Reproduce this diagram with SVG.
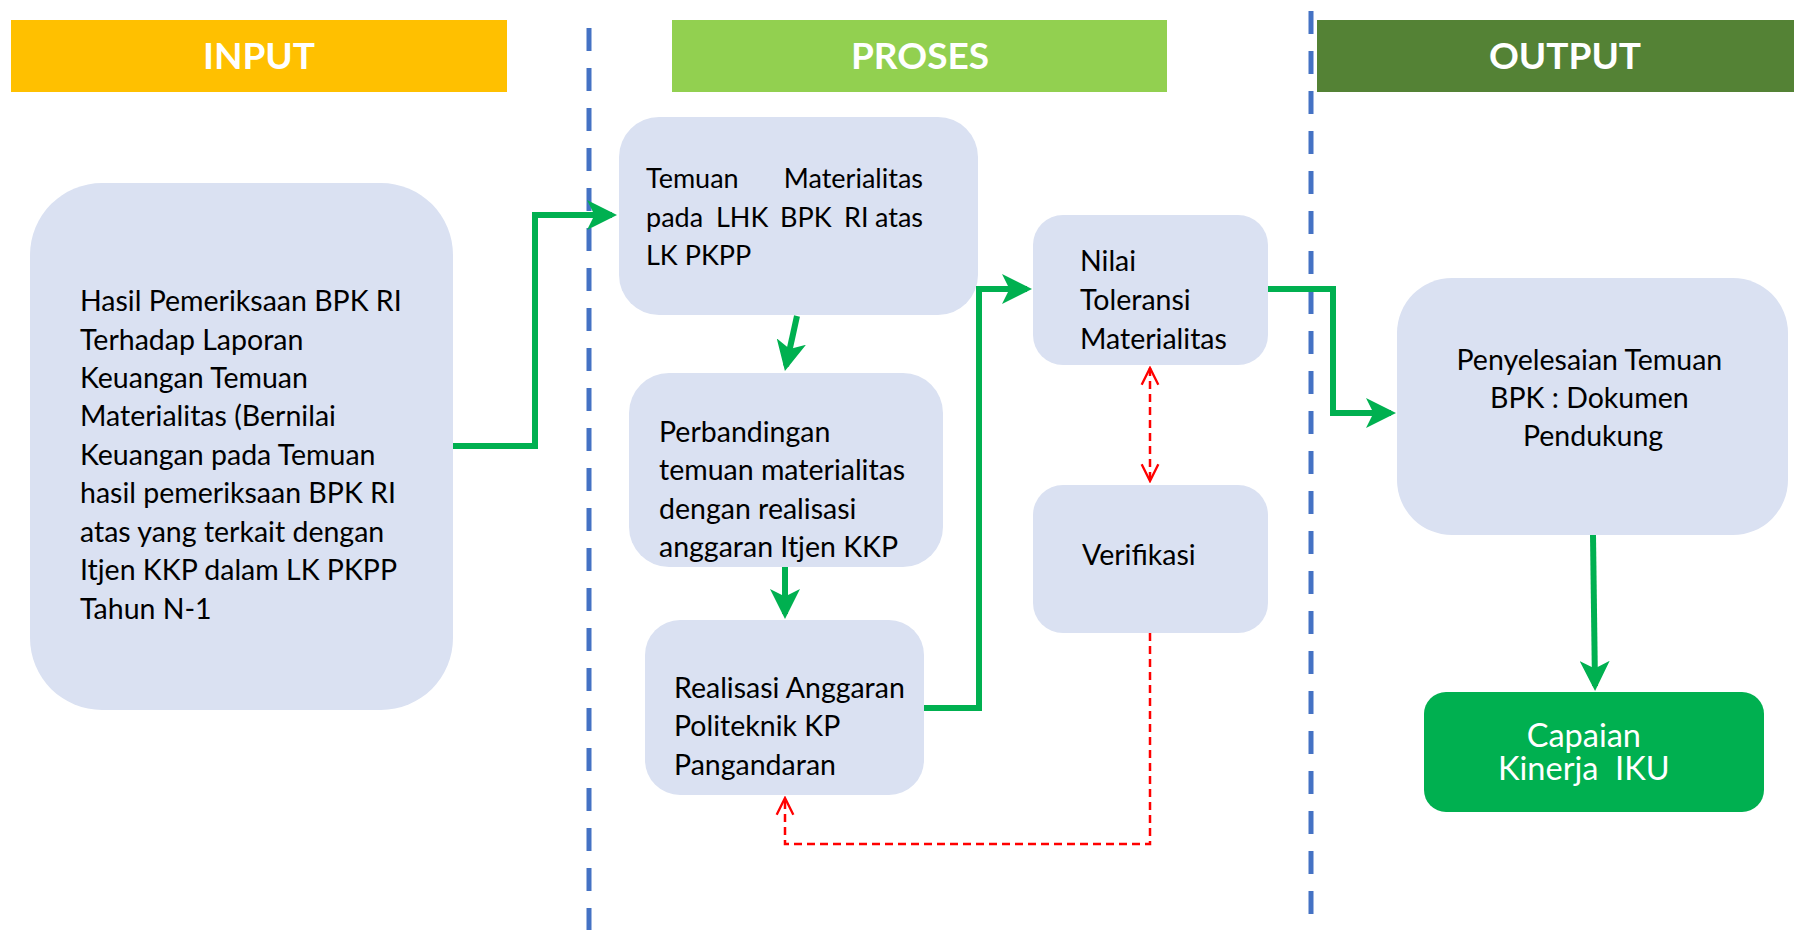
<svg xmlns="http://www.w3.org/2000/svg" width="1794" height="930" viewBox="0 0 1794 930">
<defs>
<style>
.box{fill:#DAE1F2}
.t{font-family:Lato,"Liberation Sans",sans-serif;font-size:28.5px;fill:#000}
.t2{font-size:27px}
.hd{font-family:Lato,"Liberation Sans",sans-serif;font-size:37px;font-weight:bold;fill:#fff;text-anchor:middle}
.g{fill:none;stroke:#00B050;stroke-width:6}
.r{fill:none;stroke:#FF0000;stroke-width:2.5;stroke-dasharray:8 5}
.sep{stroke:#4472C4;stroke-width:5;stroke-dasharray:23 17}
</style>
<marker id="ag" viewBox="0 0 12 12" refX="10" refY="6" markerWidth="5" markerHeight="5" orient="auto" markerUnits="strokeWidth">
<path d="M0,0 L12,6 L0,12 L3,6 Z" fill="#00B050"/>
</marker>
<marker id="ar" viewBox="0 0 12 12" refX="11" refY="6" markerWidth="8" markerHeight="8" orient="auto-start-reverse" markerUnits="strokeWidth">
<path d="M1,1 L11,6 L1,11" fill="none" stroke="#FF0000" stroke-width="1.4"/>
</marker>
</defs>
<rect width="1794" height="930" fill="#fff"/>

<g id="headers">
<rect x="11" y="20" width="496" height="72" fill="#FFC000"/>
<text class="hd" x="259" y="69">INPUT</text>
<rect x="672" y="20" width="495" height="72" fill="#92D050"/>
<text class="hd" x="920" y="69">PROSES</text>
<rect x="1317" y="20" width="477" height="72" fill="#548235"/>
<text class="hd" x="1565" y="69">OUTPUT</text>
</g>

<g id="separators">
<line class="sep" x1="589" y1="28" x2="589" y2="930"/>
<line class="sep" x1="1311" y1="11" x2="1311" y2="915"/>
</g>

<g id="node-hasil">
<rect class="box" x="30" y="183" width="423" height="527" rx="72"/>
<text class="t">
<tspan x="80" y="311">Hasil Pemeriksaan BPK RI</tspan>
<tspan x="80" y="350">Terhadap Laporan</tspan>
<tspan x="80" y="388">Keuangan Temuan</tspan>
<tspan x="80" y="426">Materialitas (Bernilai</tspan>
<tspan x="80" y="465">Keuangan pada Temuan</tspan>
<tspan x="80" y="503">hasil pemeriksaan BPK RI</tspan>
<tspan x="80" y="542">atas yang terkait dengan</tspan>
<tspan x="80" y="580">Itjen KKP dalam LK PKPP</tspan>
<tspan x="80" y="619">Tahun N-1</tspan>
</text>
</g>

<g id="node-temuan">
<rect class="box" x="619" y="117" width="359" height="198" rx="40"/>
<text class="t t2">
<tspan x="646" y="188">Temuan</tspan>
<tspan x="923" y="188" text-anchor="end">Materialitas</tspan>
</text>
<text class="t t2">
<tspan x="646" y="227">pada</tspan>
<tspan x="716" y="227">LHK</tspan>
<tspan x="780" y="227">BPK</tspan>
<tspan x="844" y="227">RI</tspan>
<tspan x="923" y="227" text-anchor="end">atas</tspan>
</text>
<text class="t t2" x="646" y="265">LK PKPP</text>
</g>

<g id="node-perbandingan">
<rect class="box" x="629" y="373" width="314" height="194" rx="40"/>
<text class="t">
<tspan x="659" y="442">Perbandingan</tspan>
<tspan x="659" y="480">temuan materialitas</tspan>
<tspan x="659" y="519">dengan realisasi</tspan>
<tspan x="659" y="557">anggaran Itjen KKP</tspan>
</text>
</g>

<g id="node-realisasi">
<rect class="box" x="645" y="620" width="279" height="175" rx="35"/>
<text class="t">
<tspan x="674" y="698">Realisasi Anggaran</tspan>
<tspan x="674" y="736">Politeknik KP</tspan>
<tspan x="674" y="775">Pangandaran</tspan>
</text>
</g>

<g id="node-nilai">
<rect class="box" x="1033" y="215" width="235" height="150" rx="30"/>
<text class="t">
<tspan x="1080" y="271">Nilai</tspan>
<tspan x="1080" y="310">Toleransi</tspan>
<tspan x="1080" y="349">Materialitas</tspan>
</text>
</g>

<g id="node-verifikasi">
<rect class="box" x="1033" y="485" width="235" height="148" rx="30"/>
<text class="t" x="1082" y="565">Verifikasi</text>
</g>

<g id="node-penyelesaian">
<rect class="box" x="1397" y="278" width="391" height="257" rx="55"/>
<text class="t" text-anchor="middle">
<tspan x="1593" y="370">Penyelesaian Temuan</tspan>
<tspan x="1593" y="408">BPK : Dokumen</tspan>
<tspan x="1593" y="446">Pendukung</tspan>
</text>
</g>

<g id="node-capaian">
<rect x="1424" y="692" width="340" height="120" rx="22" fill="#00B050"/>
<text class="t" text-anchor="middle" style="font-size:32.5px;fill:#fff;white-space:pre">
<tspan x="1588" y="747">Capaian</tspan>
<tspan x="1588" y="780">Kinerja  IKU</tspan>
</text>
</g>

<g id="connectors">
<polyline class="g" points="453,446 535,446 535,215 612,215" marker-end="url(#ag)"/>
<line class="g" x1="797" y1="316" x2="786" y2="366" marker-end="url(#ag)"/>
<line class="g" x1="785" y1="567" x2="785" y2="614" marker-end="url(#ag)"/>
<polyline class="g" points="924,708 979,708 979,289 1027,289" marker-end="url(#ag)"/>
<polyline class="g" points="1268,289 1333,289 1333,413 1391,413" marker-end="url(#ag)"/>
<line class="g" x1="1593" y1="535" x2="1595" y2="686" marker-end="url(#ag)"/>
<line class="r" x1="1150" y1="368" x2="1150" y2="481" marker-start="url(#ar)" marker-end="url(#ar)"/>
<polyline class="r" points="1150,633 1150,844 785,844 785,798" marker-end="url(#ar)"/>
</g>
</svg>
